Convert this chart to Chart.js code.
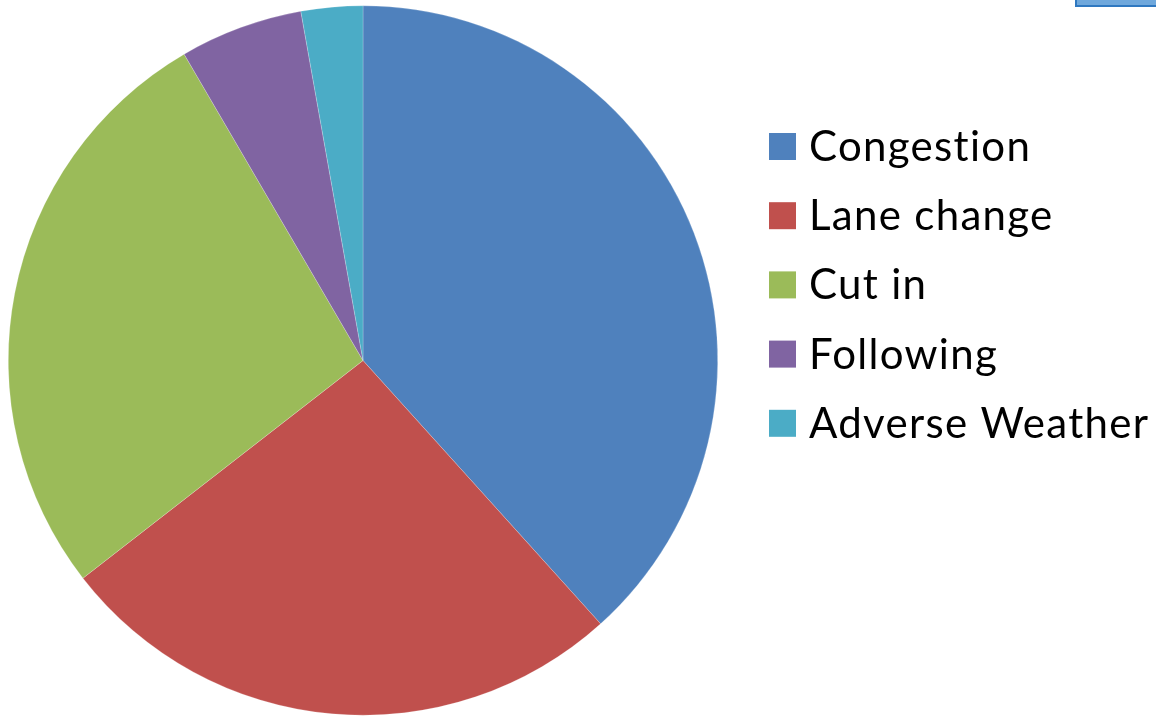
<!DOCTYPE html>
<html>
<head>
<meta charset="utf-8">
<script src="https://cdn.jsdelivr.net/npm/chart.js@4.4.0/dist/chart.umd.min.js"></script>
<style>
    html, body { margin: 0; padding: 0; background: #fff; overflow: hidden; }
    #wrap { position: relative; width: 1156px; height: 716px; }
    #corner-box {
        position: absolute; left: 1075px; top: -12px; width: 100px; height: 15px;
        background: #6fa8dc; border: 2px solid #2f78c0;
    }
</style>
</head>
<body>
<div id="wrap">
    <canvas id="chart-causes" width="1156" height="716"></canvas>
    <div id="corner-box"></div>
</div>
<script>
// Incident causes, number of cases
const categories = ['Congestion', 'Lane change', 'Cut in', 'Following', 'Adverse Weather'];
const caseCounts = [41, 28, 29, 6, 3];
const sliceColors = ['#4F81BD', '#C0504D', '#9BBB59', '#8064A2', '#4BACC6'];

// Legend drawn by hand so rows sit where we want them
const sideLegend = {
    id: 'sideLegend',
    afterDraw(chart) {
        const ctx = chart.ctx;
        const labels = chart.data.labels;
        const colors = chart.data.datasets[0].backgroundColor;
        ctx.save();
        ctx.font = '42px Lato, "Open Sans", sans-serif';
        if ('letterSpacing' in ctx) ctx.letterSpacing = '1.3px';
        ctx.textBaseline = 'middle';
        labels.forEach((label, i) => {
            const cy = 146.5 + i * 69.2;
            ctx.fillStyle = colors[i];
            ctx.fillRect(769, cy - 13.5, 27, 27);
            ctx.fillStyle = '#000';
            ctx.fillText(label, 809, cy + 1);
        });
        ctx.restore();
    }
};

new Chart(document.getElementById('chart-causes'), {
    type: 'pie',
    data: {
        labels: categories,
        datasets: [{
            data: caseCounts,
            backgroundColor: sliceColors,
            borderColor: 'rgba(255,255,255,0.35)',
            borderWidth: 0.6
        }]
    },
    options: {
        responsive: false,
        animation: false,
        layout: { padding: { left: 8, top: 5, bottom: 0, right: 438 } },
        plugins: {
            legend: { display: false },
            tooltip: { enabled: false }
        }
    },
    plugins: [sideLegend]
});
</script>
</body>
</html>
